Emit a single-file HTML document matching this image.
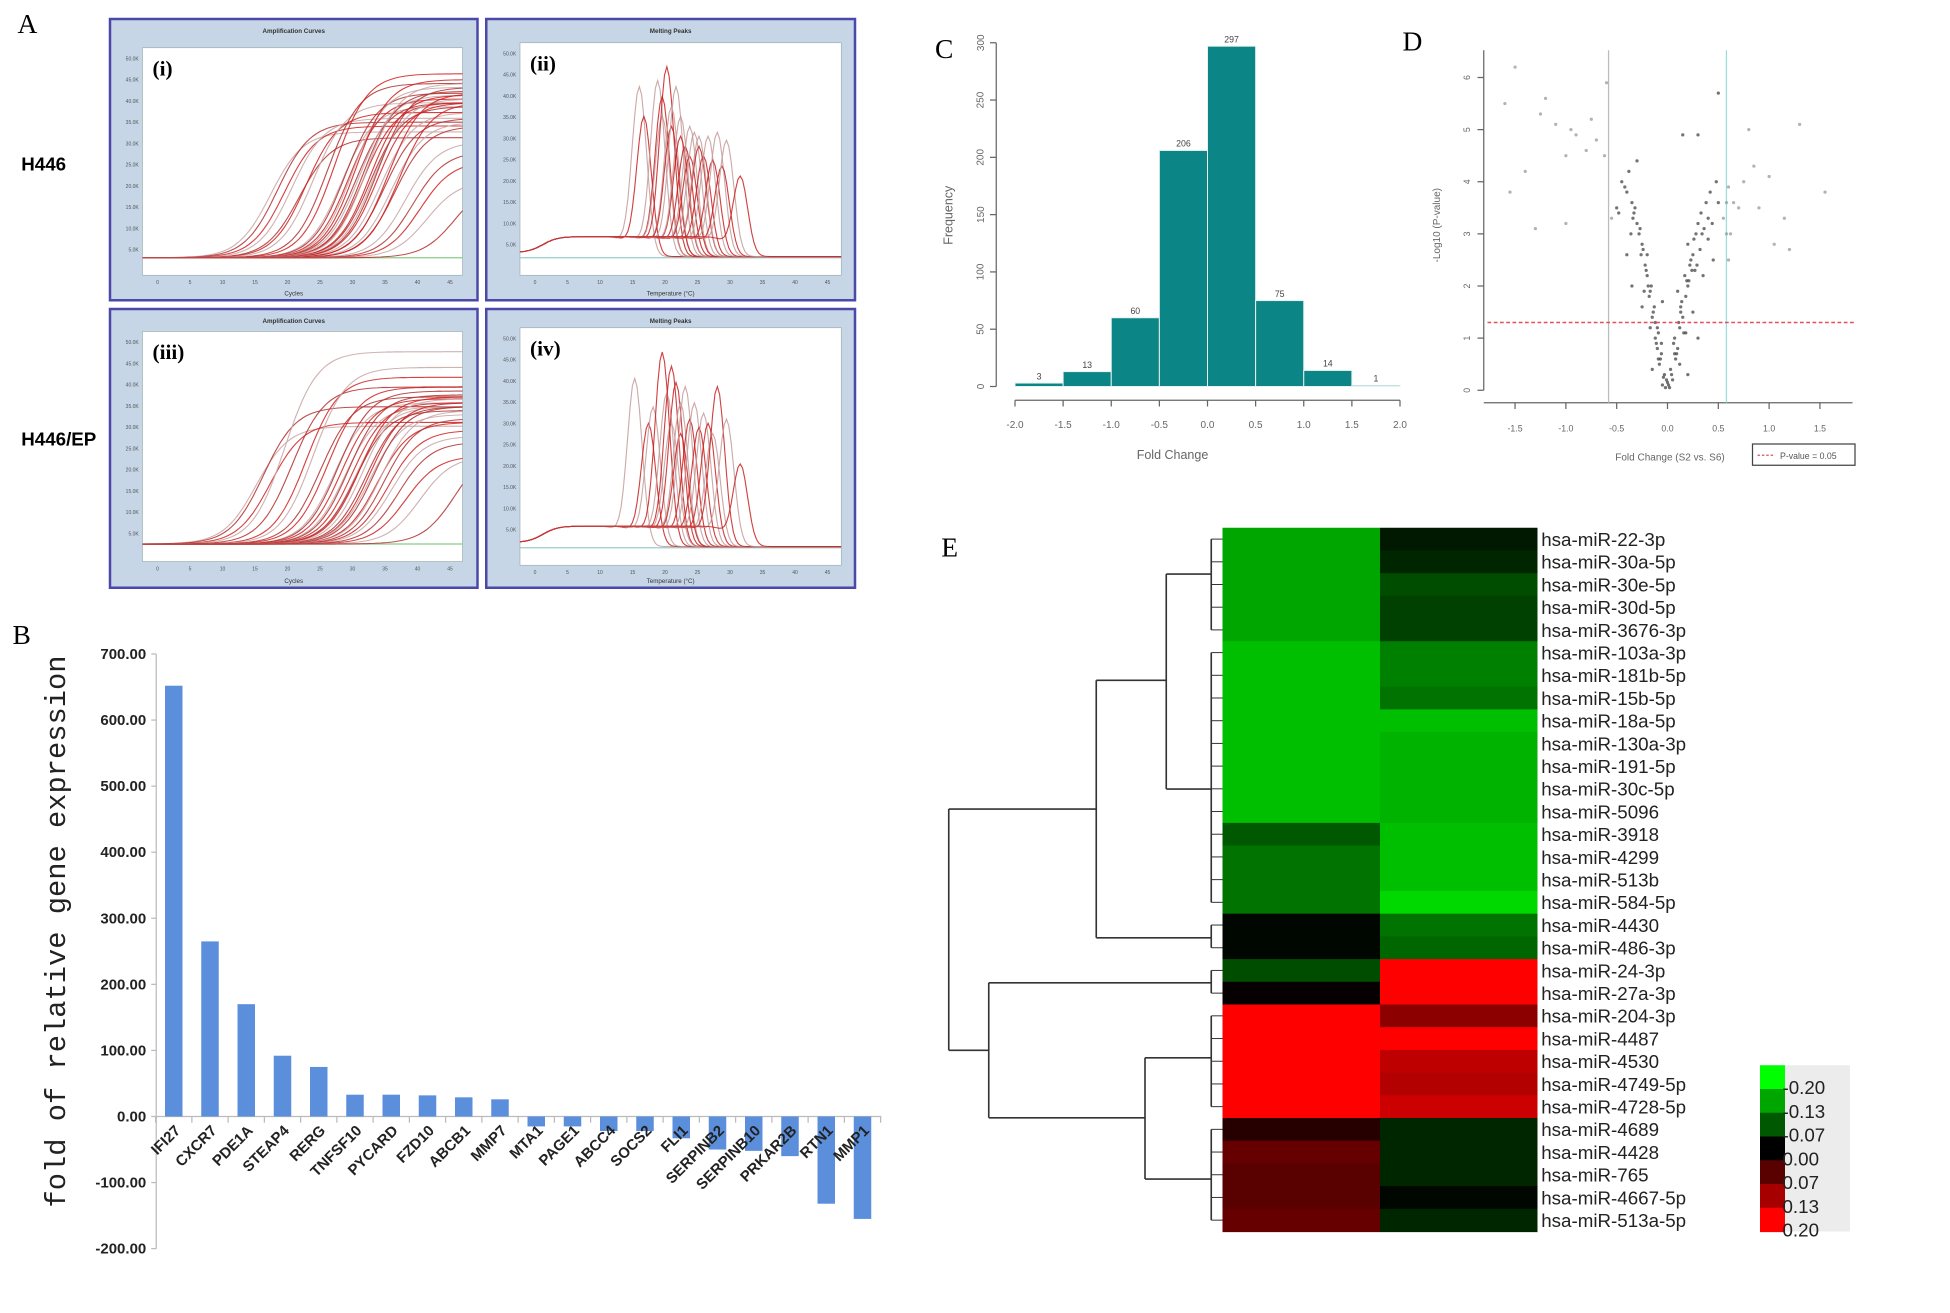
<!DOCTYPE html>
<html><head><meta charset="utf-8"><style>
html,body{margin:0;padding:0;background:#fff;}
svg{display:block;}
text{font-family:"Liberation Sans",sans-serif;}
text.serif{font-family:"Liberation Serif",serif;}
text.mono{font-family:"Liberation Mono",monospace;}
</style></head><body>
<svg id="fig" width="1950" height="1313" viewBox="0 0 1560 1050" xmlns="http://www.w3.org/2000/svg">
<rect width="1560" height="1050" fill="#fff"/>
<g id="pA"></g>
<g id="pB"></g>
<g id="pC"></g>
<g id="pD"></g>
<g id="pE"></g>
</svg>
<script>
// ---------- Panel B data ----------
const genes = ["IFI27","CXCR7","PDE1A","STEAP4","RERG","TNFSF10","PYCARD","FZD10","ABCB1","MMP7","MTA1","PAGE1","ABCC4","SOCS2","FLI1","SERPINB2","SERPINB10","PRKAR2B","RTN1","MMP1"];
const foldValues = [652,265,170,92,75,33,33,32,29,26,-15,-15,-22,-22,-33,-50,-52,-60,-132,-155];
const bTicks = [700,600,500,400,300,200,100,0,-100,-200];
// ---------- Panel C data ----------
const binStarts = [-2.0,-1.5,-1.0,-0.5,0.0,0.5,1.0,1.5];
const binCounts = [3,13,60,206,297,75,14,1];
const cYTicks = [0,50,100,150,200,250,300];
const cXTicks = [-2.0,-1.5,-1.0,-0.5,0.0,0.5,1.0,1.5,2.0];
// ---------- Panel D data ----------
const volX = [-0.02,-0.05,-0.03,-0.08,-0.06,-0.1,-0.12,-0.1,-0.15,-0.13,-0.18,-0.16,-0.2,-0.22,-0.2,-0.25,-0.28,-0.3,-0.33,-0.35,-0.4,-0.45,-0.5,-0.38,-0.3,-0.55,-0.62,-0.7,-0.8,-0.9,-1.0,-1.1,-1.25,-1.4,-1.5,-1.6,-1.2,-0.95,-0.75,-0.6,-1.0,-1.3,-1.55,
 0.02,0.05,0.03,0.08,0.1,0.07,0.12,0.15,0.13,0.18,0.2,0.17,0.22,0.25,0.2,0.28,0.3,0.33,0.38,0.42,0.5,0.55,0.6,0.65,0.62,0.7,0.75,0.85,0.9,1.0,1.05,1.15,1.3,1.55,1.2,0.15,0.3,0.5,0.8,0.45,0.35,0.1,0.25,0.3,-0.25,-0.35,-0.15,0.2,-0.05,0.4,-0.4,
 0.0,-0.04,0.04,-0.07,0.06,-0.09,0.11,-0.14,0.14,-0.17,0.19,-0.21,0.23,-0.24,0.26,0.16,0.09,-0.11,0.27,-0.27,0.32,-0.32,0.36,0.58,0.58,0.6,
 -0.01,0.01,-0.06,0.07,-0.12,0.13,-0.19,0.21,-0.26,0.29,-0.34,0.34,-0.42,0.44,-0.48,0.48,-0.36,0.4,-0.23,0.24,-0.17,0.18,-0.09,0.12];
const volY = [0.05,0.1,0.3,0.5,0.7,0.8,1.0,1.2,1.4,1.6,1.8,2.0,2.2,2.4,2.6,2.8,3.0,3.2,3.4,3.6,3.8,4.0,3.5,4.2,4.4,3.3,4.5,4.8,4.6,4.9,4.5,5.1,5.3,4.2,6.2,5.5,5.6,5.0,5.2,5.9,3.2,3.1,3.8,
 0.05,0.2,0.4,0.6,0.8,1.0,1.2,1.4,1.6,1.8,2.0,2.2,2.4,2.6,2.8,3.0,3.2,3.4,3.6,3.8,3.6,3.3,3.9,3.6,3.0,3.5,4.0,4.3,3.5,4.1,2.8,3.3,5.1,3.8,2.7,4.9,4.9,5.7,5.0,2.5,2.2,1.9,1.5,1.0,1.6,2.0,0.4,0.3,1.7,2.9,2.6,
 0.15,0.25,0.3,0.6,0.9,1.1,1.3,1.5,1.7,1.9,2.1,2.3,2.5,2.7,2.9,1.1,0.7,0.9,2.3,3.1,2.7,3.5,3.1,3.6,3.0,2.5,
 0.2,0.1,0.9,0.7,1.3,1.5,2.0,2.1,2.6,2.4,3.3,3.0,3.9,3.2,3.4,4.0,3.0,3.3,1.9,2.3,1.2,1.1,0.6,0.5];
const dXTicks = [-1.5,-1.0,-0.5,0.0,0.5,1.0,1.5];
const dYTicks = [0,1,2,3,4,5,6];
// ---------- Panel E data ----------
const mirs = ["hsa-miR-22-3p","hsa-miR-30a-5p","hsa-miR-30e-5p","hsa-miR-30d-5p","hsa-miR-3676-3p","hsa-miR-103a-3p","hsa-miR-181b-5p","hsa-miR-15b-5p","hsa-miR-18a-5p","hsa-miR-130a-3p","hsa-miR-191-5p","hsa-miR-30c-5p","hsa-miR-5096","hsa-miR-3918","hsa-miR-4299","hsa-miR-513b","hsa-miR-584-5p","hsa-miR-4430","hsa-miR-486-3p","hsa-miR-24-3p","hsa-miR-27a-3p","hsa-miR-204-3p","hsa-miR-4487","hsa-miR-4530","hsa-miR-4749-5p","hsa-miR-4728-5p","hsa-miR-4689","hsa-miR-4428","hsa-miR-765","hsa-miR-4667-5p","hsa-miR-513a-5p"];
const col1 = [-0.13,-0.13,-0.13,-0.13,-0.13,-0.15,-0.15,-0.15,-0.15,-0.15,-0.15,-0.15,-0.15,-0.07,-0.09,-0.09,-0.09,-0.005,-0.005,-0.06,0.005,0.2,0.2,0.2,0.2,0.2,0.03,0.08,0.07,0.07,0.08];
const col2 = [-0.02,-0.03,-0.06,-0.05,-0.05,-0.1,-0.1,-0.09,-0.15,-0.14,-0.14,-0.14,-0.14,-0.15,-0.15,-0.15,-0.17,-0.09,-0.08,0.2,0.2,0.11,0.2,0.15,0.14,0.16,-0.03,-0.03,-0.03,-0.005,-0.03];
const legendTicks = ["-0.20","-0.13","-0.07","0.00","0.07","0.13","0.20"];
// ---------- Panel A curve parameters ----------
const ampMid1 = [18,19,20,21,22,23,24,26,27,28,28.5,29,29.5,30,30,30.5,31,31,31.5,32,32,32.5,33,33,33.5,34,34.5,35,35.5,36,37,38,39,40,44];
const ampTop1 = [0.65,0.7,0.68,0.72,0.62,0.75,0.8,0.9,0.95,0.78,0.85,0.82,0.88,0.8,0.92,0.84,0.86,0.8,0.9,0.78,0.84,0.82,0.88,0.8,0.75,0.72,0.85,0.7,0.68,0.8,0.6,0.55,0.5,0.4,0.4];
const ampMid3 = [16,17,18,20,21,23,24,25,26,27,27.5,28,28.5,29,29.5,30,30,30.5,31,31.5,32,32,32.5,33,33.5,34,34.5,35,36,37,39,44];
const ampTop3 = [0.6,0.7,0.62,0.98,0.8,0.85,0.9,0.75,0.8,0.72,0.78,0.74,0.7,0.76,0.72,0.7,0.68,0.75,0.74,0.7,0.72,0.66,0.7,0.62,0.68,0.64,0.58,0.55,0.52,0.45,0.45,0.5];
const meltPk2 = [73,73.5,75,75.5,75.5,76,76.5,76.5,77,77.5,77.5,78,78.5,78.5,79,79.5,79.5,80,80.5,81,81.5,82,82.5,84];
const meltH2 = [0.85,0.7,0.88,0.8,0.7,0.95,0.75,0.65,0.85,0.6,0.7,0.55,0.65,0.5,0.62,0.55,0.6,0.5,0.6,0.48,0.62,0.45,0.58,0.4];
const meltPk4 = [72.5,74,74.5,75.5,76,76.5,76.5,77,77.5,77.5,78,78.5,79,79.5,80,80.5,81,81.5,82.5,84];
const meltH4 = [0.82,0.6,0.68,0.95,0.75,0.88,0.6,0.8,0.7,0.55,0.78,0.62,0.7,0.58,0.65,0.6,0.55,0.78,0.62,0.4];

const NS="http://www.w3.org/2000/svg";
function el(tag,attrs,parent,txt){const e=document.createElementNS(NS,tag);for(const k in attrs)e.setAttribute(k,attrs[k]);if(txt!==undefined)e.textContent=txt;parent.appendChild(e);return e;}
function fmt2(v){return v.toFixed(2);}

// ================= PANEL A =================
(function(){
 const g=document.getElementById('pA');
 let t=el('text',{x:14,y:26,'font-size':22,class:'serif'},g,'A');
 
 t=el('text',{x:17,y:136,'font-size':15,'font-weight':'bold'},g,'H446');
 
 t=el('text',{x:17,y:356,'font-size':15,'font-weight':'bold'},g,'H446/EP');
 
 const boxes=[
  {x:88,y:15,w:294,h:225,ix:114,iy:38,iw:256,ih:170,title:'Amplification Curves',lab:'(i)',type:'amp',mid:ampMid1,top:ampTop1,xl:'Cycles',name:'amplification-curves-h446'},
  {x:389,y:15,w:295,h:225,ix:416,iy:34,iw:257,ih:174,title:'Melting Peaks',lab:'(ii)',type:'melt',pk:meltPk2,hh:meltH2,xl:'Temperature (°C)',name:'melting-peaks-h446'},
  {x:88,y:247,w:294,h:223,ix:114,iy:265,iw:256,ih:172,title:'Amplification Curves',lab:'(iii)',type:'amp',mid:ampMid3,top:ampTop3,xl:'Cycles',name:'amplification-curves-h446-ep'},
  {x:389,y:247,w:295,h:223,ix:416,iy:262,iw:257,ih:178,title:'Melting Peaks',lab:'(iv)',type:'melt',pk:meltPk4,hh:meltH4,xl:'Temperature (°C)',name:'melting-peaks-h446-ep'}];
 boxes.forEach(b=>{
  const bg=el('g',{},g);
  
  el('rect',{x:b.x,y:b.y,width:b.w,height:b.h,fill:'#c6d6e6',stroke:'#4a48a8','stroke-width':2},bg);
  el('rect',{x:b.ix,y:b.iy,width:b.iw,height:b.ih+12,fill:'#fff',stroke:'#9aa','stroke-width':0.5},bg);
  el('text',{x:b.x+b.w/2,y:b.y+11,'font-size':5,'text-anchor':'middle','font-weight':'bold',fill:'#333'},bg,b.title);
  el('text',{x:b.x+b.w/2,y:b.y+b.h-4,'font-size':5,'text-anchor':'middle',fill:'#333'},bg,b.xl);
  el('text',{x:b.ix+8,y:b.iy+22,'font-size':17,'font-weight':'bold',class:'serif'},bg,b.lab);
  for(let i=0;i<10;i++){el('text',{x:b.ix-3,y:b.iy+10+i*17,'font-size':4,'text-anchor':'end',fill:'#555'},bg,(10-i)*5+'.0K');}
  for(let i=0;i<10;i++){el('text',{x:b.ix+12+i*26,y:b.iy+b.ih+19,'font-size':4,'text-anchor':'middle',fill:'#555'},bg,String(i*5));}
  const base=b.iy+b.ih-2, H=b.ih-15;
  if(b.type==='amp'){
   el('line',{x1:b.ix,y1:base,x2:b.ix+b.iw,y2:base,stroke:'#8c8','stroke-width':1},bg);
   b.mid.forEach((m,i)=>{
    let d='';
    for(let c=0;c<=45;c+=0.5){const x=b.ix+c/45*b.iw;const y=base-b.top[i]*H/(1+Math.exp(-(c-m)/2.3));d+=(c?'L':'M')+x.toFixed(1)+' '+y.toFixed(1);}
    const p=el('path',{d:d,fill:'none',stroke:i%3===0?'#c8a4a4':(i%3===1?'#b03030':'#d02020'),'stroke-width':0.9,opacity:0.85},bg);
    
   });
  } else {
   el('line',{x1:b.ix,y1:base,x2:b.ix+b.iw,y2:base,stroke:'#9cc','stroke-width':1},bg);
   b.pk.forEach((pk,i)=>{
    let d='';
    for(let tt=60;tt<=95;tt+=0.25){
     const x=b.ix+(tt-60)/35*b.iw;
     const band=(0.02+0.08/(1+Math.exp(-(tt-62.5)/0.8)))/(1+Math.exp((tt-(pk-1.5))/0.5));
     const peak=b.hh[i]*Math.exp(-Math.pow(tt-pk,2)/(2*0.8*0.8));
     const y=base-H*(band+peak)-1;
     d+=(tt>60?'L':'M')+x.toFixed(1)+' '+y.toFixed(1);}
    const p=el('path',{d:d,fill:'none',stroke:i%2===0?'#c49a9a':'#c82020','stroke-width':0.9,opacity:0.85},bg);
    
   });
  }
 });
})();

// ================= PANEL B =================
(function(){
 const g=document.getElementById('pB');
 const ax=125, y0=893, per=(893-523)/700, x0=139, dx=(690-139)/19, bw=14, xEnd=705;
 const Y=v=>y0-v*per;
 let t=el('text',{x:10,y:515,'font-size':22,class:'serif'},g,'B');
 
 const axl=el('line',{x1:ax,y1:Y(700),x2:ax,y2:Y(-200),stroke:'#bbb','stroke-width':1},g);
 
 bTicks.forEach(v=>{
  el('line',{x1:ax-4,y1:Y(v),x2:ax,y2:Y(v),stroke:'#bbb'},g);
  const tx=el('text',{x:ax-8,y:Y(v)+4,'font-size':12,'font-weight':'bold','text-anchor':'end',fill:'#222'},g,fmt2(v));
  
 });
 const xa=el('line',{x1:ax,y1:y0,x2:xEnd,y2:y0,stroke:'#bbb','stroke-width':1},g);
 
 for(let i=0;i<=genes.length;i++){const x=x0-dx/2+i*dx;el('line',{x1:x,y1:y0,x2:x,y2:y0+5,stroke:'#bbb'},g);}
 genes.forEach((n,i)=>{
  const v=foldValues[i], cx=x0+i*dx;
  const r=el('rect',{x:cx-bw/2,y:Math.min(Y(v),y0),width:bw,height:Math.abs(Y(v)-y0),fill:'#5b8fdc'},g);
  
  const tx=el('text',{x:cx+6,y:y0+12,'font-size':12,'font-weight':'bold','text-anchor':'end',fill:'#222',transform:`rotate(-45 ${cx+6} ${y0+12})`},g,n);
  
 });
 t=el('text',{x:52,y:745,'font-size':23,class:'mono','text-anchor':'middle',fill:'#222',transform:'rotate(-90 52 745)'},g,'fold of relative gene expression');
 
})();

// ================= PANEL C =================
(function(){
 const g=document.getElementById('pC');
 const xs=v=>812+(v+2)/4*308, ys=v=>309-v*(309-34)/300;
 let t=el('text',{x:748,y:46,'font-size':22,class:'serif'},g,'C');
 
 el('line',{x1:797,y1:ys(0),x2:797,y2:ys(300),stroke:'#666'},g);
 cYTicks.forEach(v=>{el('line',{x1:792,y1:ys(v),x2:797,y2:ys(v),stroke:'#666'},g);
  const tx=el('text',{x:787,y:ys(v),'font-size':8,fill:'#666','text-anchor':'middle',transform:`rotate(-90 787 ${ys(v)})`},g,String(v));
  });
 el('line',{x1:xs(-2),y1:320,x2:xs(2),y2:320,stroke:'#666'},g);
 cXTicks.forEach(v=>{el('line',{x1:xs(v),y1:320,x2:xs(v),y2:325,stroke:'#666'},g);
  const tx=el('text',{x:xs(v),y:342,'font-size':8,fill:'#666','text-anchor':'middle'},g,v.toFixed(1));
  });
 binStarts.forEach((b,i)=>{
  const c=binCounts[i];
  const r=el('rect',{x:xs(b),y:ys(c),width:xs(b+0.5)-xs(b),height:ys(0)-ys(c),fill:'#0b8585',stroke:'#e8f0f0','stroke-width':0.8},g);
  
  const tx=el('text',{x:(xs(b)+xs(b+0.5))/2,y:ys(c)-3,'font-size':7,fill:'#444','text-anchor':'middle'},g,String(c));
  
 });
 t=el('text',{x:762,y:172,'font-size':10,fill:'#666','text-anchor':'middle',transform:'rotate(-90 762 172)'},g,'Frequency');
 
 t=el('text',{x:938,y:367,'font-size':10,fill:'#666','text-anchor':'middle'},g,'Fold Change');
 
})();

// ================= PANEL D =================
(function(){
 const g=document.getElementById('pD');
 const xs=v=>1334+v*81.3, ys=v=>312-v*41.7;
 let t=el('text',{x:1122,y:40,'font-size':22,class:'serif'},g,'D');
 
 el('line',{x1:1187,y1:ys(0),x2:1187,y2:40,stroke:'#666'},g);
 dYTicks.forEach(v=>{el('line',{x1:1182,y1:ys(v),x2:1187,y2:ys(v),stroke:'#666'},g);
  const tx=el('text',{x:1176,y:ys(v),'font-size':7,fill:'#666','text-anchor':'middle',transform:`rotate(-90 1176 ${ys(v)})`},g,String(v));
  });
 el('line',{x1:1187,y1:322,x2:1482,y2:322,stroke:'#666'},g);
 dXTicks.forEach(v=>{el('line',{x1:xs(v),y1:322,x2:xs(v),y2:327,stroke:'#666'},g);
  const tx=el('text',{x:xs(v),y:345,'font-size':7,fill:'#666','text-anchor':'middle'},g,v.toFixed(1));
  });
 let l=el('line',{x1:xs(-0.58),y1:40,x2:xs(-0.58),y2:322,stroke:'#bbb','stroke-width':1},g);
 
 l=el('line',{x1:xs(0.58),y1:40,x2:xs(0.58),y2:322,stroke:'#9dd','stroke-width':1},g);
 
 volX.forEach((x,i)=>{
  const c=el('circle',{cx:xs(x),cy:ys(volY[i]),r:1.3,fill:Math.abs(x)>0.5?'#999':'#444',opacity:0.75},g);
  
 });
 l=el('line',{x1:1190,y1:ys(1.3),x2:1484,y2:ys(1.3),stroke:'#e05060','stroke-width':1.2,'stroke-dasharray':'3 2'},g);
 
 t=el('text',{x:1152,y:180,'font-size':8,fill:'#666','text-anchor':'middle',transform:'rotate(-90 1152 180)'},g,'-Log10 (P-value)');
 
 t=el('text',{x:1336,y:368,'font-size':8,fill:'#666','text-anchor':'middle'},g,'Fold Change (S2 vs. S6)');
 
 const lg=el('g',{},g);
 el('rect',{x:1402,y:355,width:82,height:17,fill:'#fff',stroke:'#444'},lg);
 el('line',{x1:1406,y1:364,x2:1420,y2:364,stroke:'#e05060','stroke-dasharray':'2 1.5'},lg);
 el('text',{x:1424,y:367,'font-size':7,fill:'#555'},lg,'P-value = 0.05');
})();

// ================= PANEL E =================
(function(){
 const g=document.getElementById('pE');
 const hx=978, hm=1104, hr=1230, top=422, rh=(985-422)/mirs.length;
 let t=el('text',{x:753,y:445,'font-size':22,class:'serif'},g,'E');
 
 function color(v){v=Math.max(-0.2,Math.min(0.2,v));const k=Math.abs(v)/0.2;const c=Math.round(255*k);return v<0?`rgb(0,${c},0)`:`rgb(${c},0,0)`;}
 mirs.forEach((m,i)=>{
  const y=top+i*rh;
  let r=el('rect',{x:hx,y:y,width:hm-hx,height:rh+0.5,fill:color(col1[i])},g);
  
  r=el('rect',{x:hm,y:y,width:hr-hm,height:rh+0.5,fill:color(col2[i])},g);
  
  const tx=el('text',{x:hr+3,y:y+rh/2+5.5,'font-size':15,fill:'#222'},g,m);
  
 });
 const rc=i=>top+(i+0.5)*rh;
 const dg=el('g',{stroke:'#333','stroke-width':1.3,fill:'none'},g);
 
 const segs=[[759,647,759,840],[759,647,877,647],[759,840,791,840],
  [877,544,877,750],[877,544,933,544],[877,750,969,750],
  [933,459,933,631],[933,459,969,459],[933,631,969,631],
  [791,786,791,894],[791,786,969,786],[791,894,916,894],
  [916,846,916,943],[916,846,969,846],[916,943,969,943],
  [969,rc(0),969,rc(4)],[969,rc(5),969,rc(16)],[969,rc(17),969,rc(18)],[969,rc(19),969,rc(20)],[969,rc(21),969,rc(25)],[969,rc(26),969,rc(30)]];
 segs.forEach(s=>el('line',{x1:s[0],y1:s[1],x2:s[2],y2:s[3]},dg));
 mirs.forEach((m,i)=>el('line',{x1:969,y1:rc(i),x2:978,y2:rc(i),'stroke-width':0.8},dg));
 const kg=el('g',{},g);
 el('rect',{x:1408,y:852,width:72,height:133,fill:'#ececec'},kg);
 const kv=[-0.2,-0.13,-0.07,0,0.07,0.13,0.2];
 const kh=133/kv.length;
 kv.forEach((v,i)=>{el('rect',{x:1408,y:852+i*kh,width:20,height:kh+0.5,fill:color(v)},kg);});
 legendTicks.forEach((s,i)=>{const tx=el('text',{x:1426,y:852+i*kh+kh-1+5,'font-size':15,fill:'#222'},kg,s);
  });
})();
</script>
</body></html>
